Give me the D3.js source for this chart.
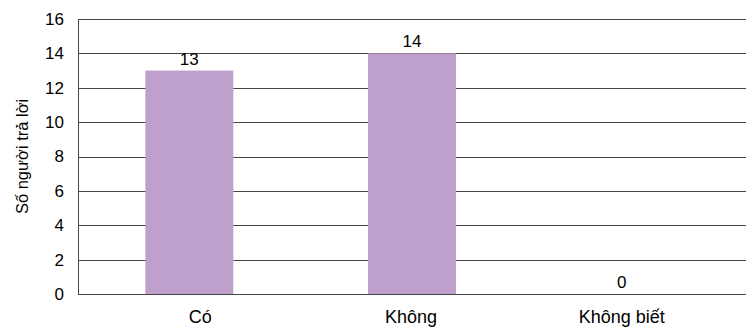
<!DOCTYPE html>
<html><head><meta charset="utf-8">
<script src="https://cdn.jsdelivr.net/npm/d3@7"></script>
<style>body{margin:0;background:#fff}svg{display:block}text{font-family:"Liberation Sans",Arial,sans-serif}</style>
</head><body><svg id="c" width="746" height="327"></svg>
<script>
const categories = ["Có", "Không", "Không biết"];
const values = [13, 14, 0];
const yTicks = [0, 2, 4, 6, 8, 10, 12, 14, 16];
const yTitle = "Số người trả lời";

const W = 746, H = 327;
const m = {left: 78, right: 0, top: 19, bottom: 33};
const FONT = '"Liberation Sans",Arial,sans-serif';
const svg = d3.select("#c");
const x = d3.scaleBand().domain(categories).range([m.left, W - m.right]).paddingInner(0.605).paddingOuter(0.3025);
// category labels sit on a slightly narrower band layout, as in the original
const xl = d3.scaleBand().domain(categories).range([m.left + 17, W - 19]);
const y = d3.scaleLinear().domain([0, 16]).range([H - m.bottom, m.top]);

// gridlines
svg.append("g").selectAll("line").data(yTicks).join("line")
  .attr("x1", m.left).attr("x2", W)
  .attr("y1", d => Math.round(y(d)) + 0.5).attr("y2", d => Math.round(y(d)) + 0.5)
  .attr("stroke", "#474747").attr("stroke-width", 1);

// bars
svg.append("g").selectAll("rect").data(values).join("rect")
  .attr("x", (d, i) => x(categories[i])).attr("width", x.bandwidth())
  .attr("y", d => y(d)).attr("height", d => y(0) - y(d))
  .attr("fill", "#bf9fcb");

// axis line
svg.append("line").attr("x1", m.left + 0.5).attr("x2", m.left + 0.5)
  .attr("y1", Math.round(y(16)) + 0.5).attr("y2", Math.round(y(0)) + 0.5)
  .attr("stroke", "#474747");

// y tick labels
const yAxis = d3.axisLeft(y).tickValues(yTicks).tickSize(0).tickPadding(14);
const ga = svg.append("g").attr("transform", `translate(${m.left},0)`).call(yAxis);
ga.select(".domain").remove();
ga.selectAll("text").attr("font-size", 17).attr("fill", "#000").attr("font-family", FONT);

// x labels
const xAxis = d3.axisBottom(xl).tickSize(0).tickPadding(16);
const gx = svg.append("g").attr("transform", `translate(0,${y(0)})`).call(xAxis);
gx.select(".domain").remove();
gx.selectAll("text").attr("font-size", 18).attr("fill", "#000").attr("font-family", FONT);

// value labels
svg.append("g").selectAll("text").data(values).join("text")
  .attr("x", (d, i) => d === 0 ? xl(categories[i]) + xl.bandwidth() / 2 : x(categories[i]) + x.bandwidth() / 2)
  .attr("y", d => y(d) - 6)
  .attr("text-anchor", "middle").attr("font-size", 17).attr("fill", "#000")
  .text(d => d);

// y title
svg.append("text").attr("transform", `translate(28,${(y(0) + y(16)) / 2}) rotate(-90)`)
  .attr("text-anchor", "middle").attr("font-size", 16.5).attr("fill", "#000").text(yTitle);
</script></body></html>
